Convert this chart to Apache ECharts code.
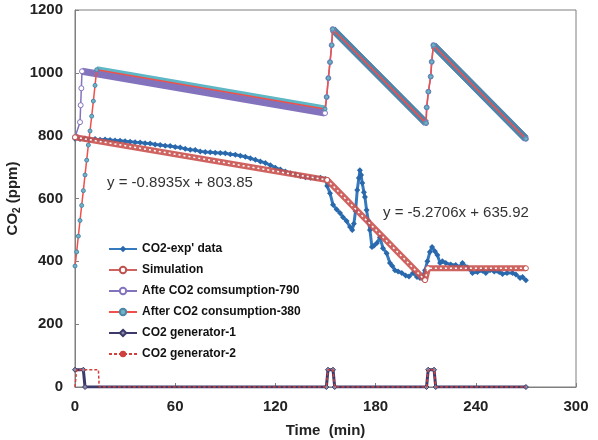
<!DOCTYPE html>
<html>
<head>
<meta charset="utf-8">
<script src="https://cdn.jsdelivr.net/npm/echarts@6/dist/echarts.min.js"></script>
<style>
html, body { margin: 0; padding: 0; background: #fff; }
#main { width: 598px; height: 440px; }
</style>
</head>
<body>
<div id="main"></div>
<script>
// time (min), CO2 (ppm)
var expData = [
  [0,790],[3,789],[6,791],[9,788],[12,789],[15,787],[18,788],[21,786],[24,785],[27,784],
  [30,782],[33,781],[36,779],[39,778],[42,776],[45,775],[48,772],[51,770],[54,768],[57,767],
  [60,764],[63,762],[66,758],[69,755],[72,754],[75,750],[78,748],[81,747],[84,746],[87,745],
  [90,744],[93,741],[96,739],[99,736],[102,733],[105,728],[108,723],[111,718],[114,713],[117,706],
  [120,698],[123,692],[126,686],[129,680],[132,676],[135,672],[138,668],[141,666],[144,665],[147,666],
  [150,662],[151,640],[152.7,617],[154.5,580],[156.7,565],[158.7,554],[160.5,540],[162.6,528],[164.7,509],
  [166,500],[167,520],[168,560],[169,627],[170,665],[170.6,690],[171.3,675],[172,649],[173,620],
  [173.6,605],[174.6,563],[175.6,530],[176.6,500],[177.8,446],[179,450],[180.8,458],[182.6,477],
  [184.4,442],[186.6,426],[188.6,395],[190,385],[191.6,372],[193.5,368],[195.7,363],[198,355],
  [200,352],[202.4,363],[204.8,350],[206.6,347],[208,350],[209.6,372],[211,400],[212.5,430],
  [213.8,446],[215.5,432],[217,420],[218.6,395],[220,400],[222,395],[225,390],[228,388],[230.5,382],
  [232,395],[235,380],[238,363],[241,366],[244,370],[246,363],[248.5,372],[251,368],[254,366],
  [256,360],[258.7,363],[262,363],[264,358],[266.5,347],[268,350],[270,340]
];
var simData = [[0,795],[151,659],[209.6,340],[211.4,378],[270,378]];
var after790 = [
  [0,795],[1,796],[3,843],[3.4,897],[3.8,951],[4.2,1005],[149.7,872],
  [150.7,923],[151.7,983],[152.7,1034],[153.7,1088],[154.3,1139],[210.2,840],
  [210.6,890],[211.6,940],[213,988],[213.6,1035],[214.6,1088],[270,790]
];
var after380 = [
  [0,385],[1,430],[2,480],[3,530],[4,578],[5,625],[6,675],[7,722],[8,770],[9,815],
  [10,862],[11,910],[12,960],[13,1010],[149.7,885],
  [150.7,923],[151.7,983],[152.7,1034],[153.7,1088],[154.3,1139],[210.2,840],
  [210.6,890],[211.6,940],[213,988],[213.6,1035],[214.6,1088],[270,790]
];
var gen1 = [[0,55],[5,55],[6,0],[150.5,0],[151.5,55],[154.5,55],[155.5,0],[210.5,0],[211.5,55],[215,55],[216,0],[270,0]];
var gen2 = [[0,0],[1,55],[14,55],[14.5,0],[150.5,0],[151.5,55],[154.5,55],[155.5,0],[210.5,0],[211.5,55],[215,55],[216,0],[270,0]];

var names = ["CO2-exp' data", 'Simulation', 'Afte CO2 comsumption-790', 'After CO2 consumption-380', 'CO2 generator-1', 'CO2 generator-2'];

// keep only the long (slow decline) segments, for the thick marker bands
function longSegments(pts) {
  var out = [];
  for (var i = 1; i < pts.length; i++) {
    if (pts[i][0] - pts[i - 1][0] > 5) {
      out.push(pts[i - 1], pts[i], [pts[i][0], '-']);
    }
  }
  return out;
}

var font = 'Arial, Liberation Sans';
var myChart = echarts.init(document.getElementById('main'));

var option = {
  backgroundColor: '#fff',
  animation: false,
  grid: { left: 75, right: 22, top: 10, bottom: 53, outerBoundsMode: 'none',
    show: true, borderColor: '#7f7f7f', borderWidth: 1 },
  legend: {
    orient: 'vertical',
    left: 108, top: 243,
    padding: 0,
    itemWidth: 28, itemHeight: 8, itemGap: 9,
    textStyle: { fontFamily: font, fontWeight: 'bold', fontSize: 12, color: '#111' },
    data: names
  },
  xAxis: {
    type: 'value', min: 0, max: 300, interval: 60,
    name: 'Time  (min)', nameLocation: 'middle', nameGap: 36, nameMoveOverlap: false,
    nameTextStyle: { fontFamily: font, fontWeight: 'bold', fontSize: 15, color: '#222' },
    axisLine: { lineStyle: { color: '#7f7f7f' } },
    axisTick: { inside: true, length: 4, lineStyle: { color: '#7f7f7f' } },
    axisLabel: { fontFamily: font, fontWeight: 'bold', fontSize: 15, color: '#222', margin: 12,
      formatter: function (v) { return String(v); } },
    splitLine: { show: false }
  },
  yAxis: {
    type: 'value', min: 0, max: 1200, interval: 200,
    name: '{a|CO}{s|2}{a| (ppm)}', nameLocation: 'middle', nameGap: 53, nameMoveOverlap: false,
    nameTextStyle: {
      rich: {
        a: { fontFamily: font, fontWeight: 'bold', fontSize: 15, color: '#222' },
        s: { fontFamily: font, fontWeight: 'bold', fontSize: 10, color: '#222', padding: [8, 0, 0, 0] }
      }
    },
    axisLine: { show: true, lineStyle: { color: '#7f7f7f' } },
    axisTick: { show: true, inside: true, length: 4, lineStyle: { color: '#7f7f7f' } },
    axisLabel: { fontFamily: font, fontWeight: 'bold', fontSize: 15, color: '#222', margin: 12,
      formatter: function (v) { return String(v); } },
    splitLine: { show: false }
  },
  graphic: [
    { type: 'text', left: 107, top: 175, style: { text: 'y = -0.8935x + 803.85', font: '15px Arial, Liberation Sans', fill: '#333' } },
    { type: 'text', left: 383, top: 205, style: { text: 'y = -5.2706x + 635.92', font: '15px Arial, Liberation Sans', fill: '#333' } }
  ],
  series: [
    // thick bands of dense markers on the slow declines
    { name: 'band380', type: 'line', data: longSegments(after380), symbol: 'none', silent: true,
      lineStyle: { color: '#5db7c6', width: 7 }, z: 1 },
    { name: 'band790', type: 'line', data: longSegments(after790), symbol: 'none', silent: true,
      lineStyle: { color: '#8373bd', width: 7 }, z: 1 },
    { name: 'bandSaw', type: 'line', data: longSegments(after380.filter(function (p) { return p[0] > 150; })), symbol: 'none', silent: true,
      lineStyle: { color: '#4d86a8', width: 7 }, z: 1 },
    { name: names[2], type: 'line', data: after790, symbol: 'circle', symbolSize: 5,
      itemStyle: { color: '#fff', borderColor: '#8373bd', borderWidth: 1 },
      lineStyle: { color: '#8373bd', width: 1.5 }, z: 2 },
    { name: names[3], type: 'line', data: after380, symbol: 'circle', symbolSize: 4,
      itemStyle: { color: '#6fb3c8', borderColor: '#4d86a8', borderWidth: 1 },
      lineStyle: { color: '#f0504a', width: 1.5 }, z: 2 },
    { name: names[0], type: 'line', data: expData, symbol: 'diamond', symbolSize: 6,
      itemStyle: { color: '#2a68ac' },
      lineStyle: { color: '#357abf', width: 3 }, z: 3 },
    { name: names[1], type: 'line', data: simData, symbol: 'circle', symbolSize: 5,
      itemStyle: { color: '#fff', borderColor: '#c0504d', borderWidth: 1 },
      lineStyle: { color: '#c9524f', width: 6, opacity: 0.9 }, z: 4 },
    { name: 'simDots', type: 'line', data: simData, symbol: 'none', silent: true,
      lineStyle: { color: '#fff', width: 1.5, type: [2, 3] }, z: 5 },
    { name: names[4], type: 'line', data: gen1, symbol: 'diamond', symbolSize: 5,
      itemStyle: { color: '#8c8ca8', borderColor: '#3c3a6a', borderWidth: 1 },
      lineStyle: { color: '#3c3a6a', width: 3 }, z: 3 },
    { name: names[5], type: 'line', data: gen2, symbol: 'none',
      itemStyle: { color: '#d0403c' },
      lineStyle: { color: '#d0403c', width: 1.5, type: [3, 2] }, z: 4 }
  ]
};

myChart.setOption(option);
</script>
</body>
</html>
